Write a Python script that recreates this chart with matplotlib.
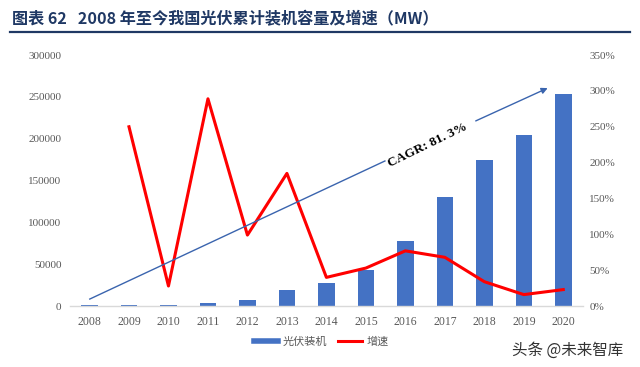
import numpy as np
import matplotlib.pyplot as plt
from matplotlib.lines import Line2D

plt.rcParams['font.family'] = ['Noto Sans CJK SC', 'DejaVu Sans']

years = ['2008', '2009', '2010', '2011', '2012', '2013', '2014',
         '2015', '2016', '2017', '2018', '2019', '2020']
capacity = [1200, 1300, 1400, 3300, 6800, 19420, 28050,
            43180, 77420, 130250, 174460, 204300, 253430]   # MW
growth = [np.nan, 2.50, 0.28, 2.89, 0.99, 1.85, 0.40,
          0.53, 0.77, 0.68, 0.34, 0.16, 0.23]               # ratio

blue = '#4472C4'
red = '#FF0000'
navy = '#1F3864'
grey = '#595959'

fig = plt.figure(figsize=(6.4, 3.67), dpi=100)
ax = fig.add_axes([0.109, 0.166, 0.802, 0.684])
ax2 = ax.twinx()

x = np.arange(len(years))
ax.bar(x, capacity, width=0.42, color=blue, zorder=2)
ax2.plot(x, growth, color=red, lw=2.2, zorder=3)

ax.set_xlim(-0.5, len(years) - 0.5)
ax.set_ylim(0, 300000)
ax2.set_ylim(0, 3.5)
ax.set_yticks(np.arange(0, 300001, 50000))
ax2.set_yticks(np.arange(0, 3.51, 0.5))
ax2.set_yticklabels(['%d%%' % round(v * 100) for v in np.arange(0, 3.51, 0.5)])
ax.set_yticklabels(['%d' % v for v in np.arange(0, 300001, 50000)])
ax.set_xticks(x)
ax.set_xticklabels(years)

for a in (ax, ax2):
    for s in a.spines.values():
        s.set_visible(False)
    a.tick_params(length=0, colors=grey)
ax.spines['bottom'].set_visible(True)
ax.spines['bottom'].set_color('#D9D9D9')
ax.spines['bottom'].set_linewidth(1)

for t in ax.get_yticklabels() + ax2.get_yticklabels():
    t.set_fontfamily('Liberation Serif')
    t.set_fontsize(8)
for t in ax.get_xticklabels():
    t.set_fontfamily('Liberation Serif')
    t.set_fontsize(8.5)
ax.tick_params(axis='y', pad=6)
ax2.tick_params(axis='y', pad=4.5)
ax.tick_params(axis='x', pad=7)

# CAGR arrow, broken where the label sits
arrow_col = '#3A64AE'
ax2.plot([0.039, 0.614], [0.028, 0.578], color=arrow_col, lw=1,
         transform=ax2.transAxes, clip_on=False, zorder=4)
ax2.annotate('', xy=(0.936, 0.873), xytext=(0.786, 0.733),
             xycoords='axes fraction', textcoords='axes fraction',
             arrowprops=dict(arrowstyle='-|>', color=arrow_col, lw=1,
                             mutation_scale=9), zorder=4)
ax2.text(0.698, 0.641, 'CAGR: 81. 3%', transform=ax2.transAxes,
         rotation=26, rotation_mode='anchor', ha='center', va='center',
         fontsize=9.5, fontweight='bold', family='Liberation Serif',
         color='black', zorder=5)

# title and rule
fig.text(0.019, 0.947, '图表 62   2008 年至今我国光伏累计装机容量及增速（MW）',
         fontsize=11.6, fontweight='bold', color=navy, va='center', ha='left')
fig.add_artist(Line2D([0.015, 0.985], [0.912, 0.912], color=navy, lw=1.6,
                      transform=fig.transFigure))

handles = [Line2D([], [], color=blue, lw=4),
           Line2D([], [], color=red, lw=2.2)]
fig.legend(handles, ['光伏装机', '增速'], loc='center', ncol=2,
           bbox_to_anchor=(0.502, 0.069), frameon=False, fontsize=8,
           handlelength=2.2, handletextpad=0.35, columnspacing=1.0,
           labelcolor=grey)

fig.text(0.80, 0.046, '头条 @未来智库', fontsize=11.2, color='#333333',
         ha='left', va='center')

fig.savefig('out.png', dpi=100)
